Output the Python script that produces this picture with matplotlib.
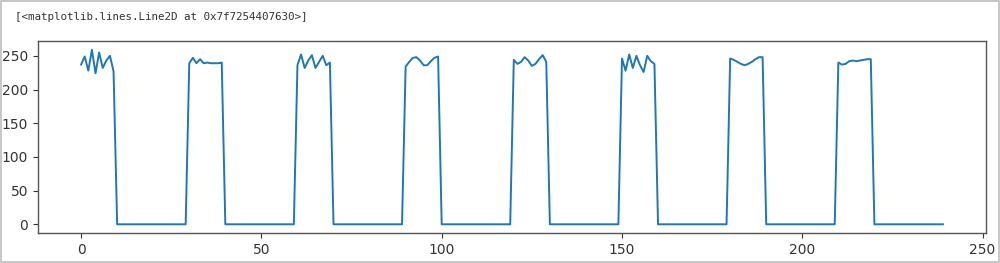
import matplotlib.pyplot as plt
from matplotlib.patches import Rectangle

# значения на "включённых" участках (по 10 точек), между ними по 20 нулей
pulse1 = [237, 249, 228, 259, 224, 255, 232, 243, 250, 227]
pulse2 = [239, 247, 239, 245, 239, 240, 239, 239, 239, 240]
pulse3 = [236, 252, 232, 243, 251, 232, 241, 250, 236, 240]
pulse4 = [234, 241, 247, 248, 243, 236, 236, 242, 247, 249]
pulse5 = [244, 238, 241, 248, 243, 235, 238, 245, 251, 241]
pulse6 = [246, 228, 252, 232, 250, 236, 226, 250, 242, 238]
pulse7 = [246, 244, 241, 238, 236, 238, 241, 245, 248, 248]
pulse8 = [240, 237, 238, 242, 243, 242, 243, 244, 245, 245]
gap = [0] * 20

pulses = [pulse1, pulse2, pulse3, pulse4, pulse5, pulse6, pulse7, pulse8]
values = []
for p in pulses:
    values += p + gap
steps = list(range(len(values)))

fig = plt.figure(figsize=(10, 2.63), dpi=100)

# рамка скриншота
fig.patches.append(Rectangle((0.001, 0.002), 0.998, 0.996, transform=fig.transFigure,
                             fill=False, edgecolor="#bdbdbd", linewidth=1.2))

# вывод ячейки Jupyter
fig.text(0.015, 0.935, "[<matplotlib.lines.Line2D at 0x7f7254407630>]",
         family="DejaVu Sans Mono", fontsize=7.8, color="#333333", va="center")

ax = fig.add_axes([0.038, 0.114, 0.948, 0.730])
ax.plot(steps, values, color="#1f77b4", linewidth=1.4)

ax.set_xticks([0, 50, 100, 150, 200, 250])
ax.set_yticks([0, 50, 100, 150, 200, 250])
ax.tick_params(labelsize=10, colors="#333333")
for s in ax.spines.values():
    s.set_color("#555555")
    s.set_linewidth(1.0)

fig.savefig("out.png", dpi=100)
